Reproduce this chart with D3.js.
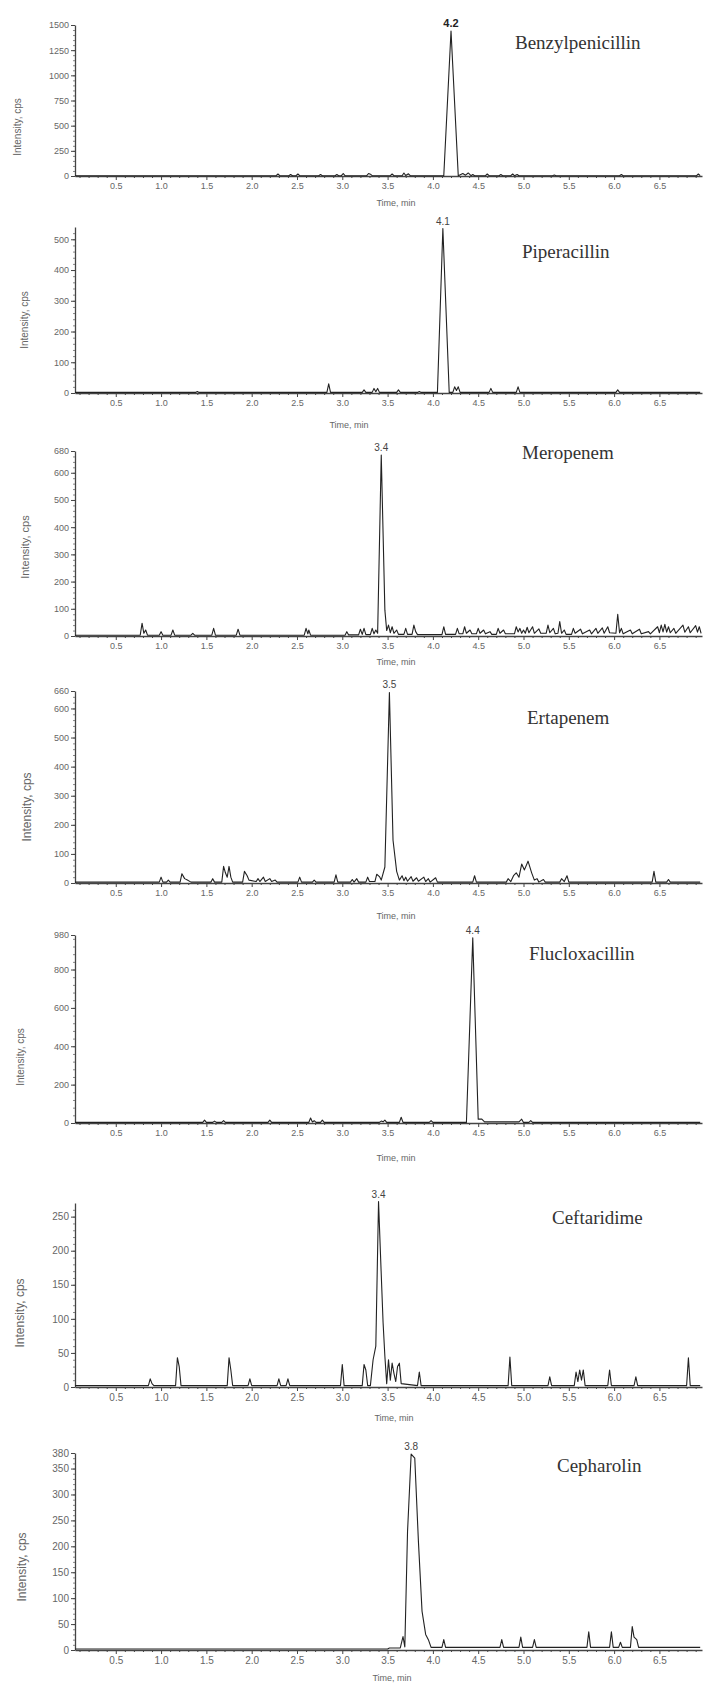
<!DOCTYPE html>
<html>
<head>
<meta charset="utf-8">
<script src="https://cdn.jsdelivr.net/npm/d3@7"></script>
<style>
  body { margin: 0; background: #fff; }
  svg { display: block; }
</style>
</head>
<body>
<svg id="chart" width="706" height="1684"></svg>
<script>
// ---- Data -------------------------------------------------------------
const compounds = ["Benzylpenicillin", "Piperacillin", "Meropenem", "Ertapenem",
                   "Flucloxacillin", "Ceftaridime", "Cepharolin"];
const peakLabels = ["4.2", "4.1", "3.4", "3.5", "4.4", "3.4", "3.8"];
const yMax = [1500, 540, 680, 660, 980, 270, 380];
const yTicks = [
  [0, 250, 500, 750, 1000, 1250, 1500],
  [0, 100, 200, 300, 400, 500],
  [0, 100, 200, 300, 400, 500, 600, 680],
  [0, 100, 200, 300, 400, 500, 600, 660],
  [0, 200, 400, 600, 800, 980],
  [0, 50, 100, 150, 200, 250],
  [0, 50, 100, 150, 200, 250, 300, 350, 380]
];
const timeTicks = [0.5, 1.0, 1.5, 2.0, 2.5, 3.0, 3.5, 4.0, 4.5, 5.0, 5.5, 6.0, 6.5];
const timeDomain = [0.05, 6.97];

// chromatogram vertices: [time (min), intensity (cps)]
const benzylpenicillin = [
  [0.05,3],[2.27,3],[2.29,20],[2.31,3],[2.41,3],[2.43,15],[2.45,3],[2.49,3],[2.51,20],[2.53,3],
  [2.74,3],[2.76,15],[2.78,3],[2.92,3],[2.94,15],[2.96,3],[2.99,3],[3.01,25],[3.03,3],
  [3.27,3],[3.29,25],[3.31,18],[3.33,3],[3.53,3],[3.55,20],[3.57,3],[3.66,3],[3.68,30],
  [3.70,5],[3.73,22],[3.75,3],[4.12,3],[4.20,1440],[4.28,3],[4.33,25],[4.36,8],[4.39,30],
  [4.42,3],[4.44,15],[4.46,3],[4.58,3],[4.60,20],[4.62,3],[4.73,3],[4.75,15],[4.77,3],
  [4.86,3],[4.88,20],[4.90,3],[4.93,15],[4.95,3],[5.32,3],[5.34,10],[5.36,3],[6.06,3],
  [6.08,15],[6.10,3],[6.91,3],[6.93,20],[6.95,3]
];
const piperacillin = [
  [0.05,2],[1.38,2],[1.40,5],[1.42,2],[2.83,2],[2.85,30],[2.87,2],[3.22,2],[3.24,10],[3.26,2],
  [3.33,2],[3.35,15],[3.37,4],[3.39,15],[3.41,2],[3.60,2],[3.62,10],[3.64,2],[3.83,2],
  [3.85,5],[3.87,2],[4.05,2],[4.11,535],[4.18,2],[4.22,2],[4.24,20],[4.26,8],[4.28,20],
  [4.30,2],[4.62,2],[4.64,15],[4.66,2],[4.92,2],[4.94,20],[4.96,2],[6.02,2],[6.04,10],
  [6.06,2],[6.95,2]
];
const meropenem = [
  [0.05,3],[0.77,3],[0.79,47],[0.81,10],[0.83,22],[0.85,3],[0.98,3],[1.00,16],[1.02,3],
  [1.11,3],[1.13,22],[1.15,3],[1.33,3],[1.35,10],[1.37,3],[1.56,3],[1.58,28],[1.60,3],
  [1.83,3],[1.85,25],[1.87,3],[2.58,3],[2.60,28],[2.62,8],[2.63,22],[2.65,3],[3.03,3],
  [3.05,16],[3.07,4],[3.18,4],[3.20,25],[3.22,6],[3.24,28],[3.26,5],[3.31,5],[3.33,28],
  [3.35,8],[3.37,22],[3.39,10],[3.43,665],[3.47,95],[3.49,20],[3.51,40],[3.53,12],
  [3.55,34],[3.57,10],[3.60,22],[3.62,6],[3.68,6],[3.70,28],[3.72,6],[3.77,6],[3.79,40],
  [3.81,16],[3.83,5],[4.10,5],[4.12,34],[4.14,6],[4.25,6],[4.27,28],[4.29,8],[4.33,8],
  [4.35,34],[4.37,10],[4.41,22],[4.43,8],[4.48,8],[4.50,28],[4.52,10],[4.56,22],[4.58,8],
  [4.63,16],[4.65,6],[4.70,6],[4.72,28],[4.74,10],[4.78,22],[4.80,8],[4.90,8],[4.92,34],
  [4.94,15],[4.96,28],[4.98,10],[5.00,22],[5.02,10],[5.04,32],[5.06,12],[5.10,34],[5.12,10],
  [5.17,26],[5.19,10],[5.25,10],[5.27,40],[5.29,12],[5.33,28],[5.35,8],[5.38,10],[5.40,53],
  [5.42,10],[5.45,22],[5.47,6],[5.53,6],[5.55,28],[5.57,10],[5.63,25],[5.65,8],[5.73,22],
  [5.75,8],[5.80,28],[5.82,10],[5.87,30],[5.89,10],[5.93,34],[5.95,12],[6.02,10],[6.04,80],
  [6.06,12],[6.08,28],[6.10,8],[6.18,22],[6.20,8],[6.28,25],[6.30,8],[6.38,16],[6.40,8],
  [6.48,34],[6.50,12],[6.52,40],[6.54,15],[6.56,43],[6.58,14],[6.60,34],[6.62,12],[6.66,28],
  [6.68,10],[6.76,40],[6.78,14],[6.82,34],[6.84,12],[6.90,38],[6.92,14],[6.94,34],[6.96,10]
];
const ertapenem = [
  [0.05,3],[0.98,3],[1.00,20],[1.02,3],[1.06,3],[1.08,10],[1.10,3],[1.21,3],[1.23,32],
  [1.26,15],[1.29,10],[1.33,3],[1.55,3],[1.57,15],[1.59,3],[1.67,3],[1.69,57],[1.71,35],
  [1.73,20],[1.75,57],[1.77,20],[1.79,3],[1.90,3],[1.92,40],[1.95,25],[1.97,10],[2.05,5],
  [2.07,15],[2.09,5],[2.13,20],[2.15,5],[2.20,15],[2.22,5],[2.26,10],[2.28,3],[2.51,3],
  [2.53,20],[2.55,3],[2.67,3],[2.69,10],[2.71,3],[2.91,3],[2.93,28],[2.95,3],[3.09,3],
  [3.11,12],[3.13,3],[3.16,15],[3.18,3],[3.26,3],[3.28,20],[3.30,5],[3.36,5],[3.38,30],
  [3.41,22],[3.43,10],[3.47,55],[3.52,655],[3.56,147],[3.60,40],[3.63,10],[3.66,25],
  [3.68,8],[3.70,20],[3.72,6],[3.76,22],[3.78,6],[3.82,18],[3.84,6],[3.90,20],[3.92,5],
  [3.95,15],[3.97,3],[4.03,18],[4.05,3],[4.44,3],[4.46,25],[4.48,3],[4.81,3],[4.83,15],
  [4.86,5],[4.89,25],[4.92,35],[4.95,20],[4.98,65],[5.01,45],[5.05,75],[5.09,35],[5.12,10],
  [5.15,15],[5.17,3],[5.22,12],[5.24,3],[5.40,3],[5.42,15],[5.45,5],[5.48,25],[5.50,3],
  [6.42,3],[6.44,40],[6.46,3],[6.58,3],[6.60,12],[6.62,3],[6.95,3]
];
const flucloxacillin = [
  [0.05,3],[1.46,3],[1.48,15],[1.50,3],[1.57,3],[1.59,10],[1.61,3],[1.67,3],[1.69,12],
  [1.71,3],[2.18,3],[2.20,15],[2.22,3],[2.63,3],[2.65,26],[2.67,5],[2.69,12],[2.71,3],
  [2.76,3],[2.78,15],[2.80,3],[3.41,3],[3.43,10],[3.45,6],[3.47,15],[3.49,3],[3.63,3],
  [3.65,30],[3.67,3],[3.96,3],[3.98,12],[4.00,3],[4.37,3],[4.44,965],[4.50,20],[4.54,20],
  [4.57,6],[4.95,6],[4.98,20],[5.00,3],[5.06,3],[5.08,12],[5.10,3],[6.95,3]
];
const ceftaridime = [
  [0.05,2],[0.86,2],[0.88,12],[0.90,5],[0.92,2],[1.16,2],[1.18,43],[1.20,30],[1.22,2],
  [1.73,2],[1.75,43],[1.77,25],[1.79,2],[1.96,2],[1.98,12],[2.00,2],[2.28,2],[2.30,12],
  [2.32,2],[2.38,2],[2.40,12],[2.42,2],[2.98,2],[3.00,33],[3.02,2],[3.22,2],[3.24,33],
  [3.26,25],[3.28,2],[3.31,2],[3.34,40],[3.37,60],[3.40,272],[3.43,165],[3.45,95],
  [3.47,45],[3.49,5],[3.51,40],[3.53,10],[3.55,35],[3.57,20],[3.59,8],[3.61,30],[3.63,35],
  [3.65,5],[3.83,2],[3.85,22],[3.87,2],[4.83,2],[4.85,44],[4.87,2],[5.27,2],[5.29,15],
  [5.31,2],[5.56,2],[5.58,22],[5.60,8],[5.62,25],[5.64,10],[5.66,25],[5.68,2],[5.93,2],
  [5.95,25],[5.97,2],[6.22,2],[6.24,15],[6.26,2],[6.80,2],[6.82,43],[6.84,2],[6.95,2]
];
const cepharolin = [
  [0.05,2],[3.50,2],[3.52,4],[3.64,4],[3.67,26],[3.69,6],[3.72,228],[3.76,378],[3.80,370],
  [3.84,210],[3.88,75],[3.92,30],[3.95,20],[3.98,5],[4.10,5],[4.12,20],[4.14,5],[4.74,5],
  [4.76,20],[4.78,5],[4.95,5],[4.97,25],[4.99,5],[5.10,5],[5.12,20],[5.14,5],[5.70,5],
  [5.72,35],[5.74,5],[5.95,5],[5.97,35],[5.99,5],[6.05,5],[6.07,15],[6.09,5],[6.18,5],
  [6.20,45],[6.22,25],[6.25,20],[6.27,5],[6.95,5]
];
const traces = [benzylpenicillin, piperacillin, meropenem, ertapenem,
                flucloxacillin, ceftaridime, cepharolin];

// ---- Layout -----------------------------------------------------------
const xRange = [75, 702];
const panels = [
  { bottom: 176,  top: 25,   name: [515, 49],   ytitle: [17, 127],  time: [396, 203],  tick: 9,  title: 10 },
  { bottom: 393,  top: 227,  name: [522, 258],  ytitle: [24, 320],  time: [349, 425],  tick: 9,  title: 10 },
  { bottom: 636,  top: 451,  name: [522, 459],  ytitle: [25, 547],  time: [396, 662],  tick: 9,  title: 11 },
  { bottom: 883,  top: 691,  name: [527, 724],  ytitle: [27, 807],  time: [396, 916],  tick: 9,  title: 12 },
  { bottom: 1123, top: 935,  name: [529, 960],  ytitle: [20, 1057], time: [396, 1158], tick: 9,  title: 10 },
  { bottom: 1387, top: 1203, name: [552, 1224], ytitle: [20, 1313], time: [394, 1418], tick: 10, title: 12 },
  { bottom: 1650, top: 1453, name: [557, 1472], ytitle: [22, 1567], time: [392, 1678], tick: 10, title: 12 }
];

const axisColor = "#444";
const textColor = "#666";

// ---- Drawing ----------------------------------------------------------
const svg = d3.select("#chart");
const x = d3.scaleLinear().domain(timeDomain).range(xRange);
const minorTimes = d3.range(1, 70).map(k => k / 10).filter(t => Math.abs(t * 2 - Math.round(t * 2)) > 1e-6);

traces.forEach((trace, i) => {
  const p = panels[i];
  const y = d3.scaleLinear().domain([0, yMax[i]]).range([p.bottom, p.top]);
  const g = svg.append("g");

  // x axis: minor ticks, then labelled major ticks
  g.append("g")
    .attr("transform", `translate(0,${p.bottom})`)
    .call(d3.axisBottom(x).tickValues(minorTimes).tickSize(2).tickSizeOuter(0).tickFormat(""))
    .call(a => a.select(".domain").remove())
    .call(a => a.selectAll("line").attr("stroke", axisColor));
  g.append("g")
    .attr("transform", `translate(0,${p.bottom})`)
    .call(d3.axisBottom(x).tickValues(timeTicks).tickFormat(d3.format(".1f")).tickSize(4).tickSizeOuter(0).tickPadding(3))
    .call(a => a.select(".domain").attr("stroke", axisColor).attr("stroke-width", 1.3))
    .call(a => a.selectAll("line").attr("stroke", axisColor))
    .call(a => a.selectAll("text").attr("fill", textColor)
      .attr("font-family", "Liberation Sans, Arial, sans-serif").attr("font-size", p.tick));

  // y axis
  const step = yTicks[i][1] - yTicks[i][0];
  const minorY = d3.range(step / 5, yMax[i], step / 5);
  g.append("g")
    .attr("transform", `translate(${xRange[0]},0)`)
    .call(d3.axisLeft(y).tickValues(minorY).tickSize(2).tickSizeOuter(0).tickFormat(""))
    .call(a => a.select(".domain").remove())
    .call(a => a.selectAll("line").attr("stroke", "#888"));
  g.append("g")
    .attr("transform", `translate(${xRange[0]},0)`)
    .call(d3.axisLeft(y).tickValues(yTicks[i]).tickFormat(d3.format("d")).tickSize(4).tickSizeOuter(0).tickPadding(2))
    .call(a => a.select(".domain").attr("stroke", axisColor).attr("stroke-width", 1.3))
    .call(a => a.selectAll("line").attr("stroke", axisColor))
    .call(a => a.selectAll("text").attr("fill", textColor)
      .attr("font-family", "Liberation Sans, Arial, sans-serif").attr("font-size", p.tick));

  // axis titles
  g.append("text")
    .attr("transform", `translate(${p.ytitle[0]},${p.ytitle[1]}) rotate(-90)`)
    .attr("text-anchor", "middle").attr("dy", "0.35em")
    .attr("font-family", "Liberation Sans, Arial, sans-serif").attr("font-size", p.title)
    .attr("fill", textColor).text("Intensity, cps");
  g.append("text")
    .attr("x", p.time[0]).attr("y", p.time[1]).attr("dy", "0.35em")
    .attr("text-anchor", "middle")
    .attr("font-family", "Liberation Sans, Arial, sans-serif").attr("font-size", 9)
    .attr("fill", textColor).text("Time, min");

  // chromatogram trace
  g.append("path")
    .datum(trace)
    .attr("fill", "none")
    .attr("stroke", "#222")
    .attr("stroke-width", 1.1)
    .attr("stroke-linejoin", "round")
    .attr("d", d3.line().x(d => x(d[0])).y(d => y(d[1])));

  // retention-time label at the apex
  const apex = d3.greatest(trace, d => d[1]);
  g.append("text")
    .attr("x", x(apex[0])).attr("y", y(apex[1]) - 4)
    .attr("text-anchor", "middle")
    .attr("font-family", "Liberation Sans, Arial, sans-serif")
    .attr("font-size", i === 0 ? 11 : 10)
    .attr("font-weight", i === 0 ? "bold" : "normal")
    .attr("fill", i === 0 ? "#222" : "#444")
    .text(peakLabels[i]);

  // compound name
  g.append("text")
    .attr("x", p.name[0]).attr("y", p.name[1])
    .attr("font-family", "Liberation Serif, Times New Roman, serif")
    .attr("font-size", 19)
    .attr("fill", "#333")
    .text(compounds[i]);
});
</script>
</body>
</html>
